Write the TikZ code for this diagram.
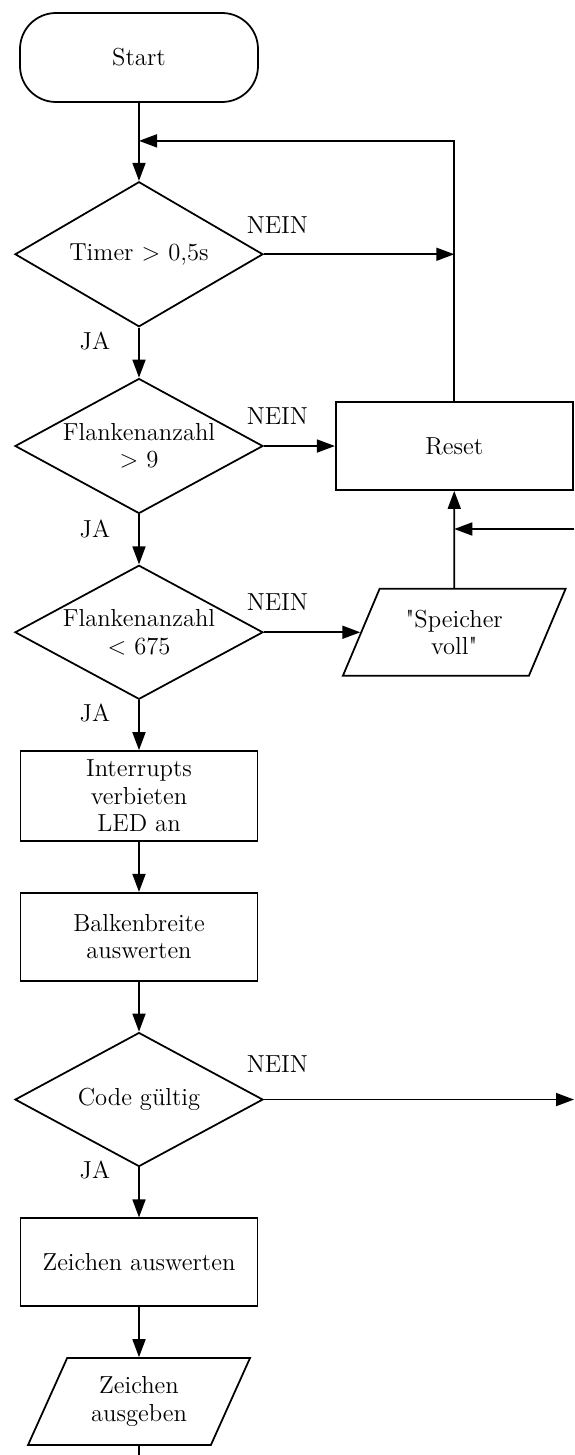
\documentclass[tikz,border=0pt]{standalone}
\usepackage{tikz}
\usetikzlibrary{positioning, shapes.geometric, arrows.meta}

\begin{document}
\begin{tikzpicture}[font=\fontsize{14pt}{15.65pt}\selectfont, line width=1pt,
    >={Triangle[length=0.36cm, width=0.26cm]}, node distance=1cm,
    terminal/.style={draw, rounded corners=0.72cm, minimum width=4.76cm, minimum height=1.78cm},
    process/.style={draw, align=center, minimum width=4.74cm, minimum height=1.76cm},
    decision/.style={draw, diamond, aspect=1.85, align=center, inner xsep=-0.5cm,
      inner ysep=0pt, minimum width=4.96cm, minimum height=2.68cm},
    io/.style={draw, trapezium, trapezium left angle=63, trapezium right angle=117,
      trapezium stretches=true, align=center, inner sep=1pt,
      minimum width=4.46cm, minimum height=1.74cm},
    lbl/.style={inner sep=0pt}]
    \useasboundingbox (0,0) rectangle (11.48,-29.1);

    % main column
    \node[terminal] (start) at (2.78,-1.15) {Start};
    \coordinate[below=0.76cm of start] (join);
    \node[decision, minimum height=2.9cm, below=1.56cm of start] (d1) {Timer > 0,5s};
    \node[decision, minimum height=2.7cm, below=of d1] (d2) {Flankenanzahl\\> 9};
    \node[decision, below=of d2] (d3) {Flankenanzahl\\< 675};
    \node[process, minimum height=1.8cm, below=of d3] (irq) {Interrupts\\verbieten\\LED an};
    \node[process, below=of irq] (balken) {Balkenbreite\\auswerten};
    \node[decision, below=of balken] (d4) {Code gültig};
    \node[process, below=of d4] (auswerten) {Zeichen auswerten};
    \node[io, below=of auswerten] (ausgabe) {Zeichen\\ausgeben};

    % right column
    \node[process, right=1.42cm of d2] (reset) {Reset};
    \node[io, below=1.94cm of reset] (speicher) {\textquotedbl Speicher\\voll\textquotedbl};

    % free ends at the picture's edges
    \coordinate (inR) at (11.48,-10.58);
    \coordinate (exitR) at (11.48,0);
    \coordinate (exitB) at (0,-29.1);

    \draw[->] (start) -- (d1);
    \draw[->] (d1) -- (d2);
    \draw[->] (d2) -- (d3);
    \draw[->] (d3) -- (irq);
    \draw[->] (irq) -- (balken);
    \draw[->] (balken) -- (d4);
    \draw[->] (d4) -- (auswerten);
    \draw[->] (auswerten) -- (ausgabe);
    \draw (ausgabe.south) -- (ausgabe.south |- exitB);

    \draw[->] (d1.east) -- (d1.east -| reset.north);
    \draw[->] (reset.north) |- (join);
    \draw[->] (d2) -- (reset);
    \draw[->] (d3.east) -- (d3.east -| speicher.west);
    \draw[->] (speicher) -- (reset);
    \draw[->] (inR) -- (inR -| reset.south);
    \draw[->] (d4.east) -- (d4.east -| exitR);

    \foreach \d/\ny/\jy in {d1/0.42/0.44, d2/0.43/0.46, d3/0.44/0.42, d4/0.54/0.22} {
      \node[lbl, anchor=base west] (nein-\d) at ([shift={(-0.36,\ny)}]\d.east) {NEIN};
      \node[lbl, anchor=base east] (ja-\d) at ([shift={(-0.56,-\jy)}]\d.south) {JA};
    }
\end{tikzpicture}
\end{document}
